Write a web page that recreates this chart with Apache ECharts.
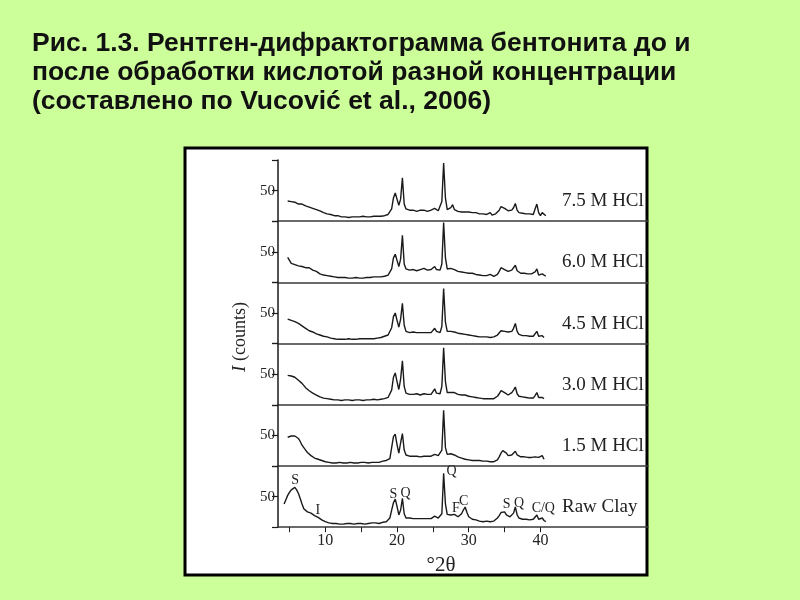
<!DOCTYPE html>
<html><head><meta charset="utf-8">
<script src="https://cdn.jsdelivr.net/npm/echarts@6/dist/echarts.min.js"></script>
<style>html,body{margin:0;padding:0;background:#ccff99}#c{width:800px;height:600px}</style>
</head><body><div id="c"></div>
<script>
// ---------- data ----------
const twoTheta = [
  4.25,4.5,4.75,5, 5.25,5.5,5.75,6, 6.25,6.5,6.75,7, 7.25,7.5,7.75,8, 8.25,8.5,8.75,9,
  9.25,9.5,9.75,10, 10.25,10.5,10.75,11, 11.25,11.5,11.75,12, 12.25,12.5,12.75,13,
  13.25,13.5,13.75,14, 14.25,14.5,14.75,15, 15.25,15.5,15.75,16, 16.25,16.5,16.75,17,
  17.25,17.5,17.75,18, 18.25,18.5,18.75,19, 19.25,19.5,19.75,20, 20.25,20.5,20.75,21,
  21.25,21.5,21.75,22, 22.25,22.5,22.75,23, 23.25,23.5,23.75,24, 24.25,24.5,24.75,25,
  25.25,25.5,25.75,26, 26.25,26.5,26.75,27, 27.25,27.5,27.75,28, 28.25,28.5,28.75,29,
  29.25,29.5,29.75,30, 30.25,30.5,30.75,31, 31.25,31.5,31.75,32, 32.25,32.5,32.75,33,
  33.25,33.5,33.75,34, 34.25,34.5,34.75,35, 35.25,35.5,35.75,36, 36.25,36.5,36.75,37,
  37.25,37.5,37.75,38, 38.25,38.5,38.75,39, 39.25,39.5,39.75,40, 40.25,40.5,40.75,41
];
const sampleNames = ['7.5 M HCl','6.0 M HCl','4.5 M HCl','3.0 M HCl','1.5 M HCl','Raw Clay'];

const hcl75 = [
  null,null,33,31, 32,30,31,29, 28,27,28,26, 25,25,23,24, 21,20,19,18,
  17,16,14,13, 12,11,11,10, 9,8,9,8, 7,8,7,7,
  6,7,7,6, 7,6,7,7, 8,7,7,8, 7,8,8,7,
  8,9,8,9, 9,10,11,13, 20,38,46,36, 26,36,71,28,
  20,19,18,17, 18,17,16,17, 18,17,18,17, 16,17,18,19,
  21,19,17,16, 32,95,38,19, 17,22,27,19, 17,16,16,15,
  16,15,14,15, 14,14,13,14, 13,12,13,12, 12,11,12,14,
  10,11,12,13, 18,24,27,21, 18,17,17,18, 22,29,18,14,
  14,13,13,12, 12,12,11,11, 20,28,14,9, 14,15,9,null
];
const hcl60 = [
  null,null,41,36, 31,30,29,28, 27,28,26,25, 24,23,24,22, 20,19,18,16,
  14,13,12,12, 11,10,10,9, 9,8,8,9, 8,7,8,8,
  7,8,7,7, 8,7,7,8, 7,8,8,7, 8,8,9,8,
  9,8,9,10, 10,11,12,14, 22,40,46,36, 26,38,77,30,
  22,21,20,20, 21,20,19,20, 21,19,23,22, 20,19,21,24,
  26,21,19,20, 30,98,40,22, 20,23,24,21, 19,18,17,17,
  16,16,15,15, 14,15,14,13, 13,12,12,11, 12,11,11,13,
  11,10,11,13, 18,24,26,21, 19,18,19,20, 23,28,19,16,
  15,14,15,14, 14,13,14,13, 17,22,12,10, 14,13,10,null
];
const hcl45 = [
  null,null,40,39, 38,37,36,35, 33,31,29,27, 25,23,21,20, 19,18,16,15,
  14,13,12,11, 11,10,9,9, 8,8,7,8, 7,8,7,7,
  8,7,7,8, 7,7,8,7, 8,7,8,8, 8,9,8,9,
  9,10,10,11, 12,13,14,16, 26,44,50,38, 27,40,66,30,
  20,19,18,18, 19,18,18,17, 18,17,18,18, 18,19,18,20,
  25,20,18,18, 28,90,35,20, 19,20,21,19, 18,17,17,16,
  15,15,14,14, 13,13,12,12, 12,11,11,11, 10,11,10,10,
  10,11,12,14, 17,21,23,20, 18,19,18,20, 25,33,20,15,
  14,13,14,13, 13,12,13,12, 15,20,12,9, 13,10,null,null
];
const hcl30 = [
  null,null,48,46, 47,44,45,43, 40,38,35,32, 28,25,23,21, 19,18,16,14,
  13,12,11,10, 10,9,9,8, 8,9,8,8, 7,8,8,7,
  8,9,7,8, 8,7,8,8, 7,8,8,7, 8,8,9,8,
  8,9,9,10, 10,11,12,14, 24,45,52,38, 25,42,72,30,
  19,18,17,18, 17,17,18,17, 16,17,18,17, 17,18,17,20,
  26,19,17,18, 30,93,38,20, 19,20,19,20, 18,17,17,16,
  15,16,14,14, 13,13,12,12, 12,11,11,10, 11,10,11,10,
  13,10,11,14, 18,23,26,20, 17,16,17,20, 24,29,18,14,
  13,13,12,12, 12,11,12,11, 15,20,12,9, 12,10,null,null
];
const hcl15 = [
  null,null,47,48, 49,48,49,47, 45,40,34,30, 26,22,19,17, 15,13,12,11,
  10,9,8,7, 7,6,6,5, 6,5,5,6, 5,5,6,5,
  5,6,5,5, 6,5,6,6, 5,6,6,5, 6,6,7,6,
  7,6,7,8, 8,9,10,12, 30,48,52,35, 21,38,53,26,
  18,17,16,16, 16,15,16,16, 15,16,16,15, 16,17,16,17,
  19,18,17,18, 26,91,30,19, 19,20,21,18, 16,15,14,13,
  12,11,11,10, 10,9,10,9, 9,9,8,8, 8,8,7,7,
  8,7,8,10, 15,21,25,24, 21,17,19,18, 20,24,18,16,
  15,14,15,14, 14,13,14,13, 15,18,14,11, 17,11,null,null
];
const rawClay = [
  38,45,52,57, 61,64,65,61, 55,47,38,30, 27,25,24,23, 21,19,17,16,
  14,12,10,9, 8,7,7,6, 7,6,6,5, 6,5,6,6,
  5,6,6,5, 6,6,5,6, 6,5,6,6, 6,7,6,7,
  7,6,7,8, 8,9,11,15, 28,40,46,34, 20,28,47,22,
  15,14,15,14, 14,13,14,15, 14,13,14,15, 14,15,14,16,
  18,16,15,14, 22,88,38,21, 19,20,18,21, 18,17,18,22,
  28,33,24,17, 14,13,12,12, 11,10,10,9, 9,10,9,9,
  11,10,12,15, 19,24,27,25, 20,18,17,19, 23,33,20,15,
  14,13,14,13, 13,12,12,13, 15,20,13,10, 15,11,9,null
];
const intensities = [hcl75, hcl60, hcl45, hcl30, hcl15, rawClay];

const yTickValues = [0, 50, 100];
const yTickLabels = [50];
const xTickValues = [5, 10, 15, 20, 25, 30, 35, 40];
const xTickLabels = [10, 20, 30, 40];

// phase labels on the raw clay pattern: [label, 2θ, counts]
const phaseLabels = [
  ['S', 5.8, 76], ['I', 8.95, 28], ['S', 19.5, 54], ['Q', 21.2, 56],
  ['Q', 27.6, 91], ['F', 28.2, 31], ['C', 29.3, 42],
  ['S', 35.3, 37], ['Q', 37.0, 39], ['C/Q', 40.4, 31]
];

const titleLines = [
  'Рис. 1.3. Рентген-дифрактограмма бентонита до и',
  'после обработки кислотой разной концентрации',
  '(составлено по Vucović et al., 2006)'
];

// ---------- layout ----------
const gridLeft = 278, gridWidth = 370, panelTop = 160, panelH = 61.2;
const serif = '"Liberation Serif", "Times New Roman", serif';
const ink = '#1a1a1a';

const grids = [], xAxes = [], yAxes = [], series = [], graphics = [];
graphics.push({type:'rect', z:-100, silent:true,
  shape:{x:185, y:148, width:462, height:427},
  style:{fill:'#ffffff', stroke:'#000000', lineWidth:3}});

for (let i = 0; i < 6; i++) {
  const last = i === 5;
  grids.push({left: gridLeft, width: gridWidth, top: panelTop + i * panelH, height: panelH});
  xAxes.push({
    type:'value', gridIndex:i, min:3.4, max:55,
    axisLine:{show:true, onZero:false, lineStyle:{color:'#3a3a3a', width:1.5}},
    axisTick:{show:last, customValues:xTickValues, length:5, lineStyle:{color:ink, width:1}},
    axisLabel:{show:last, customValues:xTickLabels, fontFamily:serif, fontSize:16, color:'#222', margin:6},
    splitLine:{show:false}
  });
  yAxes.push({
    type:'value', gridIndex:i, min:0, max:100,
    axisLine:{show:true, lineStyle:{color:ink, width:1.5}},
    axisTick:{show:true, customValues:yTickValues, length:6, lineStyle:{color:ink, width:1.2}},
    axisLabel:{show:true, customValues:yTickLabels, fontFamily:serif, fontSize:15, color:'#222', margin:3},
    splitLine:{show:false}
  });
  const pts = [];
  twoTheta.forEach((x, j) => { if (intensities[i][j] != null) pts.push([x, intensities[i][j]]); });
  const s = {
    type:'line', name: sampleNames[i], xAxisIndex:i, yAxisIndex:i, data: pts,
    symbol:'none', showSymbol:false, animation:false,
    lineStyle:{color:ink, width:1.4}
  };
  if (last) {
    s.markPoint = {
      symbol:'circle', symbolSize:0, animation:false,
      label:{show:true, position:'inside', formatter:'{b}', fontFamily:serif, fontSize:14, color:'#222'},
      data: phaseLabels.map(p => ({name:p[0], coord:[p[1], p[2]]}))
    };
  }
  series.push(s);
  graphics.push({type:'text', x:562, y: panelTop + (i + 1) * panelH - 20,
    style:{text: sampleNames[i], font:'19px ' + serif, fill:'#222', align:'left', verticalAlign:'middle'}});
}

graphics.push({type:'text', x:441, y:565,
  style:{text:'°2θ', font:'21px ' + serif, fill:'#222', align:'center', verticalAlign:'middle'}});
graphics.push({type:'text', x:240, y:337, rotation: Math.PI / 2,
  style:{text:'{i|I} (counts)', font:'18px ' + serif, fill:'#222', align:'center', verticalAlign:'middle',
    rich:{i:{fontStyle:'italic', fontSize:19, fontFamily:serif, fill:'#222'}}}});

const chart = echarts.init(document.getElementById('c'));
chart.setOption({
  backgroundColor:'#ccff99',
  animation:false,
  title:{
    text: titleLines.join('\n'), left: 27, top: 24,
    textStyle:{fontFamily:'"Liberation Sans Narrow", "Liberation Sans", Arial, sans-serif', fontWeight:'bold',
      fontSize:26.5, lineHeight:29, color:'#111'}
  },
  grid: grids, xAxis: xAxes, yAxis: yAxes, series: series, graphic: graphics
});
</script></body></html>
